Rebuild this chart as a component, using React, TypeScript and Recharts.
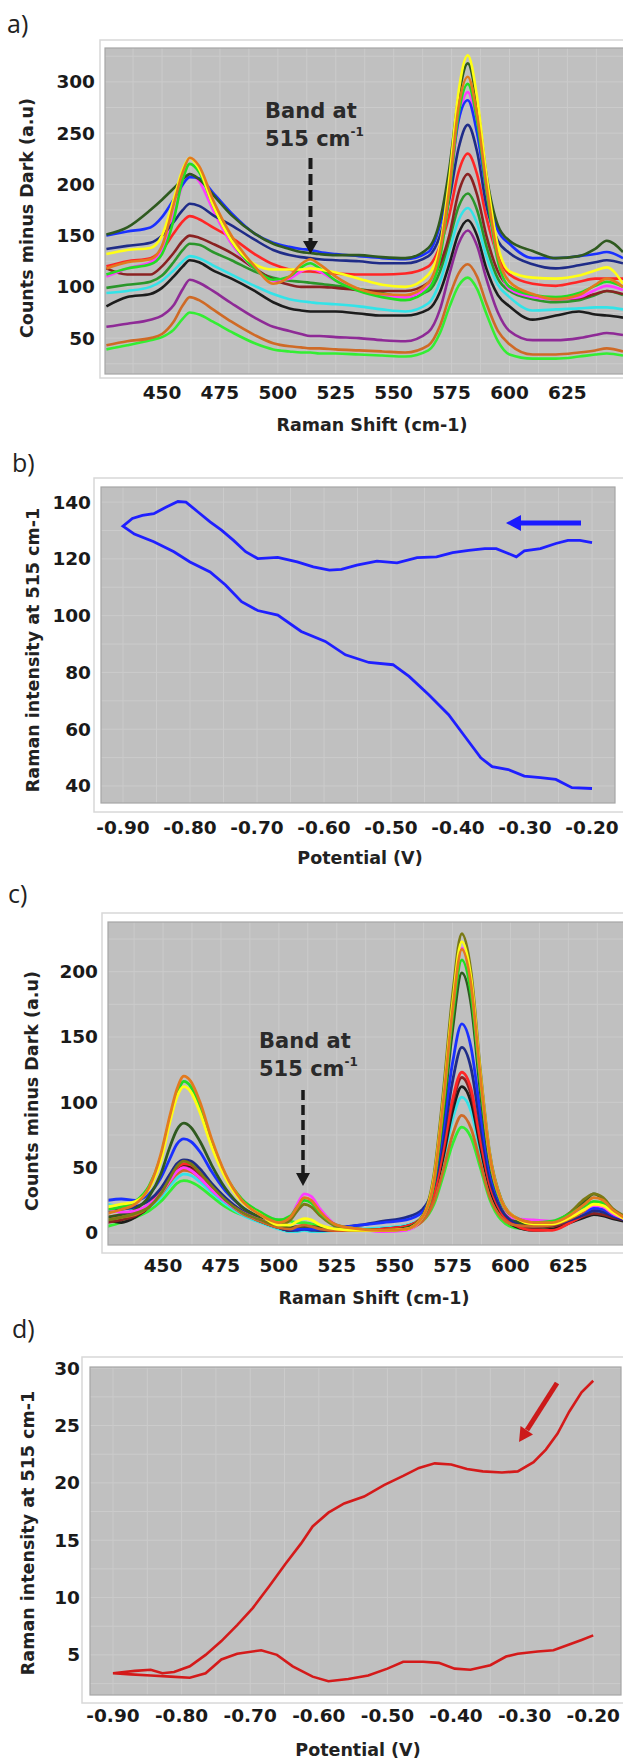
import { LineChart, Line, XAxis, YAxis, CartesianGrid } from 'recharts';

// ---- panel a: spectra during the first scan ----
const A_X = [426, 435, 445, 450, 455, 459, 462, 466, 472, 480, 490, 498, 505, 510, 514, 518, 525, 535, 545, 555, 565, 570, 574, 578, 582, 586, 590, 595, 600, 610, 620, 630, 637, 642, 649];
const A_DG = [151, 158, 175, 185, 196, 205, 210, 205, 190, 170, 152, 142, 137, 134, 133, 132, 131, 131, 129, 128, 138, 165, 215, 285, 318, 280, 210, 160, 145, 135, 128, 130, 137, 145, 134];
const A_B = [150, 154, 158, 168, 185, 200, 207, 206, 192, 172, 152, 143, 139, 137, 136, 134, 132, 130, 128, 127, 134, 160, 200, 262, 282, 250, 195, 155, 142, 128, 128, 130, 132, 134, 128];
const A_NV = [137, 140, 143, 150, 163, 175, 181, 179, 170, 160, 146, 136, 131, 129, 128, 127, 126, 125, 123, 123, 130, 150, 185, 235, 258, 232, 180, 145, 133, 122, 118, 121, 124, 126, 123];
const A_Y = [132, 136, 138, 150, 185, 215, 226, 215, 180, 145, 122, 117, 117, 117, 118, 117, 114, 108, 102, 100, 112, 140, 205, 290, 326, 285, 210, 140, 115, 109, 108, 111, 116, 119, 103];
const A_O = [118, 124, 127, 140, 180, 212, 226, 218, 185, 150, 120, 103, 110, 122, 127, 122, 110, 98, 93, 92, 104, 135, 195, 275, 305, 268, 200, 130, 105, 93, 88, 92, 102, 108, 100];
const A_LG = [112, 118, 122, 132, 165, 205, 220, 212, 180, 145, 118, 107, 110, 119, 123, 118, 106, 96, 90, 87, 98, 128, 190, 268, 298, 262, 195, 125, 100, 92, 90, 94, 101, 105, 100];
const A_M = [110, 118, 124, 136, 170, 200, 210, 203, 175, 142, 118, 106, 108, 115, 118, 115, 106, 97, 92, 90, 100, 130, 190, 262, 290, 255, 190, 125, 98, 90, 88, 90, 97, 101, 97];
const A_R = [120, 125, 128, 136, 152, 164, 169, 166, 158, 148, 132, 122, 117, 115, 115, 114, 113, 112, 112, 113, 120, 140, 170, 212, 230, 210, 168, 130, 112, 103, 101, 105, 108, 108, 108];
const A_MR = [118, 112, 112, 120, 133, 145, 150, 148, 142, 133, 118, 107, 102, 100, 100, 100, 99, 97, 96, 96, 104, 122, 150, 192, 210, 190, 150, 115, 100, 92, 88, 89, 93, 96, 93];
const A_MG = [99, 102, 105, 111, 124, 136, 142, 141, 134, 126, 115, 109, 106, 105, 104, 103, 101, 98, 94, 90, 96, 115, 145, 178, 191, 175, 140, 108, 96, 88, 85, 87, 92, 96, 92];
const A_C = [94, 96, 100, 106, 116, 125, 130, 128, 121, 112, 101, 93, 88, 86, 85, 84, 83, 81, 78, 76, 84, 105, 135, 165, 177, 162, 130, 102, 90, 77, 78, 79, 80, 80, 78];
const A_K = [81, 90, 93, 99, 110, 120, 126, 124, 116, 108, 96, 85, 79, 77, 76, 76, 76, 74, 72, 72, 78, 95, 122, 152, 165, 150, 118, 92, 81, 68, 72, 76, 73, 72, 70];
const A_P = [61, 64, 68, 72, 82, 98, 107, 104, 96, 84, 70, 61, 57, 54, 52, 52, 51, 50, 48, 47, 56, 78, 112, 142, 155, 140, 108, 75, 57, 48, 48, 50, 53, 55, 53];
const A_OL = [43, 47, 50, 54, 66, 82, 90, 87, 78, 66, 53, 45, 42, 41, 40, 40, 39, 38, 37, 36, 43, 62, 90, 113, 122, 110, 84, 57, 44, 34, 34, 36, 38, 40, 37];
const A_GL = [39, 43, 48, 51, 58, 69, 75, 73, 66, 56, 45, 39, 37, 36, 36, 35, 35, 34, 33, 32, 38, 55, 80, 101, 109, 98, 74, 47, 34, 30, 30, 32, 34, 35, 33];

// ---- panel b: intensity of the 515 band vs potential ----
const B_V = [-0.200, -0.218, -0.236, -0.254, -0.277, -0.301, -0.313, -0.325, -0.343, -0.360, -0.384, -0.408, -0.432, -0.461, -0.491, -0.521, -0.551, -0.574, -0.592, -0.616, -0.640, -0.669, -0.699, -0.717, -0.735, -0.753, -0.770, -0.788, -0.806, -0.818, -0.836, -0.854, -0.871, -0.886, -0.900, -0.883, -0.854, -0.824, -0.800, -0.770, -0.747, -0.723, -0.699, -0.669, -0.634, -0.598, -0.568, -0.533, -0.497, -0.473, -0.444, -0.414, -0.390, -0.366, -0.349, -0.325, -0.301, -0.277, -0.254, -0.230, -0.200];
const B_I = [125.7, 126.5, 126.5, 125.4, 123.6, 122.8, 120.7, 121.9, 123.6, 123.6, 123.0, 122.2, 120.7, 120.4, 118.6, 119.2, 117.8, 116.3, 116.0, 117.2, 118.9, 120.5, 120.1, 122.5, 126.5, 130.1, 133.0, 136.5, 140.0, 140.2, 138.2, 135.9, 135.3, 134.2, 131.5, 128.7, 126.0, 122.5, 118.9, 115.4, 110.8, 104.9, 101.8, 100.2, 94.4, 90.9, 86.2, 83.5, 82.7, 78.6, 72.2, 65.1, 57.5, 49.9, 46.8, 45.8, 43.5, 42.9, 42.3, 39.4, 39.1];

// ---- panel c: spectra during the second scan ----
const C_X = [426, 432, 438, 444, 449, 453, 456, 459, 462, 466, 471, 477, 484, 492, 500, 505, 508, 511, 514, 518, 525, 535, 545, 555, 562, 567, 571, 575, 579, 583, 587, 591, 596, 602, 610, 618, 626, 632, 636, 640, 644, 649];
const C_O = [15, 18, 22, 35, 60, 90, 110, 120, 116, 100, 72, 45, 25, 14, 8, 12, 20, 27, 25, 16, 6, 3, 2, 3, 12, 40, 100, 170, 217, 190, 120, 60, 25, 12, 8, 8, 14, 22, 27, 25, 18, 12];
const C_LG = [18, 20, 24, 36, 58, 88, 106, 116, 112, 96, 70, 44, 26, 16, 10, 13, 20, 25, 23, 15, 6, 3, 2, 3, 12, 38, 95, 165, 209, 183, 115, 58, 24, 12, 8, 9, 15, 21, 24, 23, 17, 12];
const C_Y = [20, 22, 24, 34, 55, 85, 104, 112, 108, 92, 66, 42, 24, 14, 6, 6, 9, 11, 10, 6, 3, 2, 2, 3, 12, 42, 102, 175, 223, 195, 122, 60, 25, 12, 7, 7, 12, 18, 22, 21, 16, 11];
const C_OV = [10, 12, 15, 20, 30, 42, 51, 55, 53, 46, 36, 25, 16, 10, 6, 10, 17, 22, 20, 13, 5, 3, 2, 3, 13, 45, 108, 182, 229, 200, 125, 62, 26, 12, 7, 8, 16, 26, 30, 27, 19, 13];
const C_M = [18, 16, 17, 22, 30, 40, 47, 50, 48, 42, 33, 24, 16, 10, 7, 12, 22, 30, 28, 18, 6, 3, 1, 2, 12, 40, 100, 172, 218, 190, 118, 58, 24, 11, 10, 9, 13, 18, 21, 20, 15, 11];
const C_DG = [12, 14, 18, 28, 45, 66, 79, 84, 81, 70, 52, 34, 20, 12, 6, 4, 5, 5, 5, 4, 3, 2, 2, 4, 12, 38, 90, 155, 199, 175, 108, 54, 23, 10, 6, 7, 14, 24, 30, 26, 18, 12];
const C_B = [25, 26, 25, 30, 42, 57, 68, 72, 70, 62, 47, 32, 20, 12, 6, 3, 3, 3, 3, 3, 4, 6, 8, 10, 16, 38, 80, 130, 160, 142, 92, 48, 22, 12, 8, 8, 12, 16, 19, 18, 14, 11];
const C_NV = [16, 18, 20, 25, 34, 45, 53, 56, 55, 49, 38, 27, 17, 10, 4, 2, 2, 3, 2, 2, 4, 6, 9, 12, 18, 36, 72, 116, 142, 126, 82, 42, 18, 8, 5, 6, 10, 14, 17, 16, 13, 10];
const C_R = [12, 14, 16, 22, 32, 43, 50, 53, 52, 46, 36, 26, 17, 10, 5, 3, 4, 5, 4, 3, 2, 2, 3, 5, 12, 30, 64, 102, 123, 110, 72, 38, 16, 6, 2, 2, 8, 14, 18, 17, 14, 11];
const C_MR = [8, 10, 13, 20, 30, 40, 47, 50, 49, 44, 35, 25, 16, 9, 4, 2, 3, 3, 3, 2, 2, 2, 3, 5, 12, 30, 62, 99, 119, 106, 70, 37, 16, 7, 4, 5, 9, 13, 15, 14, 12, 10];
const C_K = [10, 8, 12, 20, 31, 42, 49, 52, 51, 45, 35, 25, 16, 9, 4, 2, 3, 4, 3, 2, 2, 2, 3, 5, 11, 28, 58, 93, 112, 100, 66, 34, 14, 5, 2, 3, 8, 12, 14, 13, 11, 9];
const C_C = [22, 20, 18, 20, 27, 36, 42, 45, 44, 39, 31, 22, 14, 8, 3, 1, 1, 2, 1, 1, 2, 3, 4, 6, 12, 28, 55, 87, 104, 93, 62, 32, 14, 7, 5, 6, 10, 13, 15, 14, 12, 10];
const C_OL = [10, 12, 14, 20, 29, 39, 45, 48, 47, 42, 33, 24, 15, 9, 4, 3, 5, 6, 5, 3, 2, 2, 2, 3, 9, 24, 48, 75, 90, 80, 54, 28, 12, 6, 5, 6, 11, 17, 22, 20, 15, 11];
const C_GL = [5, 8, 12, 17, 24, 32, 38, 40, 39, 35, 28, 20, 14, 12, 10, 9, 8, 8, 7, 5, 3, 2, 3, 4, 9, 22, 44, 68, 81, 73, 50, 26, 10, 4, 3, 5, 12, 20, 24, 22, 16, 12];

// ---- panel d: intensity of the 515 band vs potential, second scan ----
const D_V = [-0.200, -0.217, -0.235, -0.252, -0.269, -0.287, -0.310, -0.333, -0.361, -0.384, -0.407, -0.431, -0.454, -0.477, -0.505, -0.534, -0.563, -0.586, -0.609, -0.626, -0.649, -0.672, -0.696, -0.719, -0.742, -0.765, -0.788, -0.811, -0.828, -0.845, -0.868, -0.900, -0.874, -0.845, -0.816, -0.788, -0.765, -0.742, -0.719, -0.684, -0.661, -0.638, -0.609, -0.586, -0.557, -0.528, -0.500, -0.477, -0.448, -0.425, -0.402, -0.379, -0.350, -0.327, -0.310, -0.281, -0.258, -0.235, -0.217, -0.200];
const D_I = [28.9, 27.9, 26.2, 24.3, 22.9, 21.8, 21.0, 20.9, 21.0, 21.2, 21.6, 21.7, 21.3, 20.6, 19.8, 18.8, 18.2, 17.4, 16.2, 14.7, 12.9, 11.0, 9.1, 7.6, 6.2, 5.0, 4.0, 3.5, 3.4, 3.7, 3.6, 3.4, 3.3, 3.2, 3.1, 3.0, 3.4, 4.6, 5.1, 5.4, 5.0, 4.0, 3.1, 2.7, 2.9, 3.2, 3.8, 4.4, 4.4, 4.3, 3.8, 3.7, 4.1, 4.85, 5.1, 5.3, 5.4, 5.9, 6.3, 6.7];

const SHIFT_TICKS = [450, 475, 500, 525, 550, 575, 600, 625];
const POT_TICKS = [-0.9, -0.8, -0.7, -0.6, -0.5, -0.4, -0.3, -0.2];

const A_SERIES = [
  { key: 'gl', color: '#33ee33', values: A_GL },
  { key: 'ol', color: '#cf6a26', values: A_OL },
  { key: 'p', color: '#8e2a96', values: A_P },
  { key: 'k', color: '#1c1c1c', values: A_K },
  { key: 'c', color: '#33e3e8', values: A_C },
  { key: 'mg', color: '#2a962a', values: A_MG },
  { key: 'mr', color: '#8a2222', values: A_MR },
  { key: 'r', color: '#ff2626', values: A_R },
  { key: 'm', color: '#ff3cff', values: A_M },
  { key: 'nv', color: '#1f2c88', values: A_NV },
  { key: 'b', color: '#1a30ff', values: A_B },
  { key: 'dg', color: '#2f5a1f', values: A_DG },
  { key: 'lg', color: '#22dd22', values: A_LG },
  { key: 'y', color: '#ffff14', values: A_Y },
  { key: 'o', color: '#e37a1e', values: A_O },
];

const C_SERIES = [
  { key: 'gl', color: '#33ee33', values: C_GL },
  { key: 'c', color: '#33e3e8', values: C_C },
  { key: 'k', color: '#1c1c1c', values: C_K },
  { key: 'mr', color: '#8a2222', values: C_MR },
  { key: 'r', color: '#ff2626', values: C_R },
  { key: 'nv', color: '#1f2c88', values: C_NV },
  { key: 'b', color: '#1a30ff', values: C_B },
  { key: 'dg', color: '#2f5a1f', values: C_DG },
  { key: 'ol', color: '#cf6a26', values: C_OL },
  { key: 'm', color: '#ff3cff', values: C_M },
  { key: 'ov', color: '#7a7a14', values: C_OV },
  { key: 'lg', color: '#22dd22', values: C_LG },
  { key: 'y', color: '#ffff14', values: C_Y },
  { key: 'o', color: '#e37a1e', values: C_O },
];

const aRows = A_X.map((x, k) => {
  const row: Record<string, number> = { x };
  A_SERIES.forEach((s) => (row[s.key] = s.values[k]));
  return row;
});
const cRows = C_X.map((x, k) => {
  const row: Record<string, number> = { x };
  C_SERIES.forEach((s) => (row[s.key] = s.values[k]));
  return row;
});
const bRows = B_V.map((v, k) => ({ v, i: B_I[k] }));
const dRows = D_V.map((v, k) => ({ v, i: D_I[k] }));

const FONT = "'DejaVu Sans', Verdana, sans-serif";
const PLOT_BG = '#c0c0c0';
const GRID = '#cbcbcb';

const range = (a: number, b: number, step: number) => {
  const out: number[] = [];
  for (let v = a; v <= b + 1e-9; v += step) out.push(+v.toFixed(4));
  return out;
};

// tick renderers, so the font and anchor are fixed
const YTick = ({ x, y, payload }: any) => (
  <text x={x} y={y} dy={6.5} textAnchor="end" fontFamily={FONT} fontWeight="bold" fontSize={18.5} fill="#1a1a1a">
    {payload.value}
  </text>
);
const XTick = ({ x, y, payload, digits }: any) => (
  <text x={x} y={y} dy={13} textAnchor="middle" fontFamily={FONT} fontWeight="bold" fontSize={18.5} fill="#1a1a1a">
    {digits ? Number(payload.value).toFixed(digits) : payload.value}
  </text>
);

const Title = ({ x, y, children, rotate }: any) => (
  <text
    x={x}
    y={y}
    textAnchor="middle"
    dominantBaseline="central"
    transform={rotate ? `rotate(-90 ${x} ${y})` : undefined}
    fontFamily={FONT}
    fontWeight="bold"
    fontSize={17.5}
    fill="#222"
  >
    {children}
  </text>
);

const PanelLetter = ({ x, y, children }: any) => (
  <text x={x} y={y} fontFamily="'Open Sans', 'Noto Sans', sans-serif" fontSize={25} fontWeight={500} fill="#222">
    {children}
  </text>
);

const Band = ({ x, y }: any) => (
  <g fontFamily={FONT} fontWeight="bold" fontSize={21} fill="#2a2a2a">
    <text x={x} y={y}>Band at</text>
    <text x={x} y={y + 28}>
      515 cm<tspan fontSize={12} dy={-10}>-1</tspan>
    </text>
  </g>
);

export default function App() {
  return (
    <div style={{ position: 'absolute', left: 0, top: 0, width: 623, height: 1760, background: '#fff', overflow: 'hidden' }}>
      {/* a) */}
      <div style={{ position: 'absolute', left: 0, top: 0 }}>
        <LineChart width={623} height={410} data={aRows} margin={{ top: 48, right: 0, bottom: 0, left: 0 }}>
          <CartesianGrid fill={PLOT_BG} stroke={GRID} horizontalValues={range(25, 325, 25)} verticalValues={range(437.5, 637.5, 12.5)} />
          <XAxis type="number" dataKey="x" domain={[425.4, 649]} ticks={SHIFT_TICKS} interval={0} allowDataOverflow axisLine={false} tickLine={false} tickSize={6} tickMargin={6} height={36} tick={<XTick />} />
          <YAxis type="number" domain={[15, 333]} ticks={[50, 100, 150, 200, 250, 300]} interval={0} allowDataOverflow axisLine={false} tickLine={false} tickSize={6} tickMargin={4} width={105} tick={<YTick />} />
          {A_SERIES.map((s) => (
            <Line key={s.key} type="monotone" dataKey={s.key} stroke={s.color} strokeWidth={2.6} dot={false} isAnimationActive={false} />
          ))}
        </LineChart>
      </div>

      {/* b) */}
      <div style={{ position: 'absolute', left: 0, top: 477 }}>
        <LineChart width={623} height={366} data={bRows} margin={{ top: 10, right: 8, bottom: 0, left: 0 }}>
          <CartesianGrid fill={PLOT_BG} stroke={GRID} horizontalValues={range(40, 140, 10)} verticalValues={range(-0.9, -0.2, 0.05)} />
          <XAxis type="number" dataKey="v" domain={[-0.9328, -0.1657]} ticks={POT_TICKS} interval={0} allowDataOverflow axisLine={false} tickLine={false} tickSize={6} tickMargin={12} height={40} tick={<XTick digits={2} />} />
          <YAxis type="number" domain={[34, 145.3]} ticks={[40, 60, 80, 100, 120, 140]} interval={0} allowDataOverflow axisLine={false} tickLine={false} tickSize={6} tickMargin={4} width={101} tick={<YTick />} />
          <Line type="linear" dataKey="i" stroke="#1f1fff" strokeWidth={2.8} dot={false} isAnimationActive={false} />
        </LineChart>
      </div>

      {/* c) */}
      <div style={{ position: 'absolute', left: 0, top: 912 }}>
        <LineChart width={623} height={373} data={cRows} margin={{ top: 10, right: 0, bottom: 0, left: 0 }}>
          <CartesianGrid fill={PLOT_BG} stroke={GRID} horizontalValues={range(0, 225, 25)} verticalValues={range(437.5, 637.5, 12.5)} />
          <XAxis type="number" dataKey="x" domain={[426.25, 648.6]} ticks={SHIFT_TICKS} interval={0} allowDataOverflow axisLine={false} tickLine={false} tickSize={6} tickMargin={8} height={40} tick={<XTick />} />
          <YAxis type="number" domain={[-9.2, 238]} ticks={[0, 50, 100, 150, 200]} interval={0} allowDataOverflow axisLine={false} tickLine={false} tickSize={6} tickMargin={4} width={108} tick={<YTick />} />
          {C_SERIES.map((s) => (
            <Line key={s.key} type="monotone" dataKey={s.key} stroke={s.color} strokeWidth={2.8} dot={false} isAnimationActive={false} />
          ))}
        </LineChart>
      </div>

      {/* d) */}
      <div style={{ position: 'absolute', left: 0, top: 1357 }}>
        <LineChart width={623} height={378} data={dRows} margin={{ top: 10, right: 2, bottom: 0, left: 0 }}>
          <CartesianGrid fill={PLOT_BG} stroke={GRID} horizontalValues={range(2.5, 30, 2.5)} verticalValues={range(-0.9, -0.2, 0.05)} />
          <XAxis type="number" dataKey="v" domain={[-0.9335, -0.1595]} ticks={POT_TICKS} interval={0} allowDataOverflow axisLine={false} tickLine={false} tickSize={6} tickMargin={8} height={40} tick={<XTick digits={2} />} />
          <YAxis type="number" domain={[1.5, 30.1]} ticks={[5, 10, 15, 20, 25, 30]} interval={0} allowDataOverflow axisLine={false} tickLine={false} tickSize={6} tickMargin={4} width={90} tick={<YTick />} />
          <Line type="linear" dataKey="i" stroke="#d41a1a" strokeWidth={2.6} dot={false} isAnimationActive={false} />
        </LineChart>
      </div>

      {/* frames, titles and annotations */}
      <svg width={623} height={1760} style={{ position: 'absolute', left: 0, top: 0, pointerEvents: 'none' }}>
        <g fill="none" stroke="#d8d8d8" strokeWidth={1.5}>
          <rect x={100} y={40} width={600} height={338} />
          <rect x={94} y={478} width={600} height={334} />
          <rect x={102} y={913} width={600} height={340} />
          <rect x={82} y={1357} width={600} height={346} />
        </g>
        <g fill="none" stroke="#a6a6a6" strokeWidth={1.2}>
          <rect x={105} y={48} width={600} height={326} />
          <rect x={101} y={487} width={514} height={316} />
          <rect x={108} y={922} width={600} height={323} />
          <rect x={90} y={1367} width={531} height={328} />
        </g>

        <PanelLetter x={7} y={33}>a)</PanelLetter>
        <PanelLetter x={12} y={472}>b)</PanelLetter>
        <PanelLetter x={8} y={903}>c)</PanelLetter>
        <PanelLetter x={12} y={1338}>d)</PanelLetter>

        <Title x={27} y={218} rotate>Counts minus Dark (a.u)</Title>
        <Title x={372} y={425}>Raman Shift (cm-1)</Title>
        <Title x={33} y={650} rotate>Raman intensity at 515 cm-1</Title>
        <Title x={360} y={858}>Potential (V)</Title>
        <Title x={32} y={1091} rotate>Counts minus Dark (a.u)</Title>
        <Title x={374} y={1298}>Raman Shift (cm-1)</Title>
        <Title x={28} y={1533} rotate>Raman intensity at 515 cm-1</Title>
        <Title x={358} y={1750}>Potential (V)</Title>

        <Band x={265} y={118} />
        <line x1={310.5} y1={158} x2={310.5} y2={243} stroke="#1a1a1a" strokeWidth={4} strokeDasharray="11 5" />
        <polygon points="303,241 318,241 310.5,254" fill="#1a1a1a" />

        <Band x={259} y={1048} />
        <line x1={303} y1={1090} x2={303} y2={1175} stroke="#1a1a1a" strokeWidth={3.5} strokeDasharray="10 5" />
        <polygon points="296,1173 310,1173 303,1186" fill="#1a1a1a" />

        <line x1={581} y1={523} x2={518} y2={523} stroke="#1a1aff" strokeWidth={5} />
        <polygon points="506,523 521,515 521,531" fill="#1a1aff" />

        <line x1={557} y1={1383} x2={527} y2={1430} stroke="#cc1a1a" strokeWidth={5} />
        <polygon points="519,1442 533,1434.5 520.5,1426" fill="#cc1a1a" />
      </svg>
    </div>
  );
}
